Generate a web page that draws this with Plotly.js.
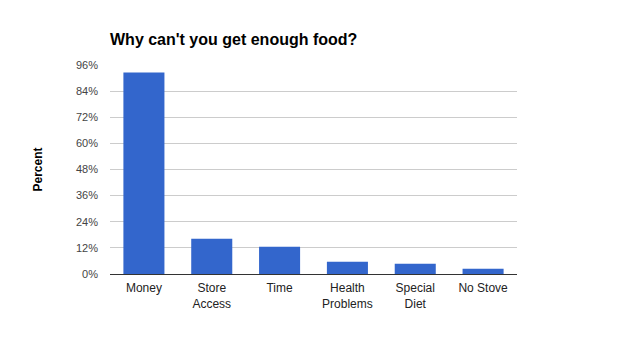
<!DOCTYPE html>
<html>
<head>
<meta charset="utf-8">
<script src="https://cdn.plot.ly/plotly-3.0.1.min.js"></script>
<style>
  html, body { margin: 0; padding: 0; background: #fff; }
  #chart { width: 626px; height: 339px; }
</style>
</head>
<body>
<div id="chart"></div>
<script>
// Reasons respondents gave for not getting enough food (percent)
const categories = ["Money", "Store<br>Access", "Time", "Health<br>Problems", "Special<br>Diet", "No Stove"];
const percents = [92.5, 16.2, 12.5, 5.6, 4.7, 2.4];
const tickValues = [0, 12, 24, 36, 48, 60, 72, 84, 96];

const trace = {
  type: "bar",
  x: categories,
  y: percents,
  marker: { color: "#3366cc" },
  hoverinfo: "x+y"
};

const layout = {
  width: 626,
  height: 339,
  margin: { l: 110, r: 109, t: 65, b: 65 },
  paper_bgcolor: "#fff",
  plot_bgcolor: "#fff",
  font: { family: "Liberation Sans, Arial, sans-serif", size: 11, color: "#444" },
  title: {
    text: "<b>Why can't you get enough food?</b>",
    font: { family: "Liberation Sans, Arial, sans-serif", size: 16, color: "#000" },
    x: 110 / 626,
    xanchor: "left",
    y: 1 - 39 / 339,
    yanchor: "middle"
  },
  bargap: 0.395,
  showlegend: false,
  xaxis: {
    type: "category",
    showgrid: false,
    showline: true,
    linecolor: "#333",
    linewidth: 1,
    ticks: "",
    ticklabelstandoff: 3,
    tickfont: { size: 12, color: "#222" },
    automargin: false
  },
  yaxis: {
    range: [0, 96],
    tickvals: tickValues,
    ticktext: tickValues.map(v => v + "%"),
    showgrid: true,
    gridcolor: "#cccccc",
    zeroline: false,
    showline: false,
    ticks: "",
    ticklabelstandoff: 11,
    tickfont: { size: 11, color: "#444" },
    automargin: false,
    title: {
      text: "<b>Percent</b>",
      font: { size: 12, color: "#000" },
      standoff: 30
    }
  }
};

Plotly.newPlot("chart", [trace], layout, { displayModeBar: false, staticPlot: true });
</script>
</body>
</html>
